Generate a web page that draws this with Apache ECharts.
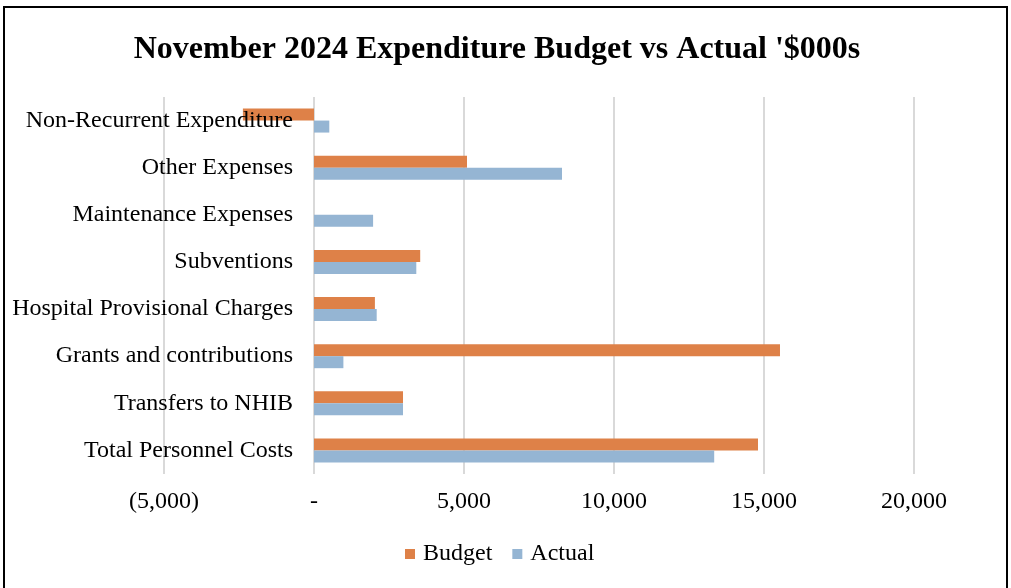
<!DOCTYPE html>
<html>
<head>
<meta charset="utf-8">
<script src="https://cdn.jsdelivr.net/npm/echarts@6/dist/echarts.min.js"></script>
<style>
html,body{margin:0;padding:0;background:#fff;width:1011px;height:588px;overflow:hidden;}
#frame{position:absolute;left:3px;top:6px;width:1001px;height:590px;border:2px solid #000;box-sizing:content-box;}
#chart{position:absolute;left:0;top:0;width:1011px;height:588px;}
</style>
</head>
<body>
<div id="frame"></div>
<div id="chart"></div>
<script>
const categories = ['Total Personnel Costs','Transfers to NHIB','Grants and contributions','Hospital Provisional Charges','Subventions','Maintenance Expenses','Other Expenses','Non-Recurrent Expenditure'];
const budget = [14800, 2967, 15533, 2030, 3540, 0, 5100, -2370];
const actual = [13340, 2967, 980, 2090, 3410, 1970, 8267, 510];
const xTicks = {min: -5000, max: 20000, interval: 5000};

function fmt(v){
  if (v === 0) return '-';
  const s = Math.abs(v).toLocaleString('en-US');
  return v < 0 ? '(' + s + ')' : s;
}

const chart = echarts.init(document.getElementById('chart'));
chart.setOption({
  animation: false,
  title: {
    text: "November 2024 Expenditure Budget vs Actual '$000s",
    left: 492, textAlign: 'center', top: 29,
    textStyle: {fontFamily: 'Liberation Serif', fontWeight: 'bold', fontSize: 32, color: '#000'}
  },
  legend: {
    data: ['Budget','Actual'],
    top: 537, left: 400,
    itemWidth: 10, itemHeight: 10, itemGap: 20,
    icon: 'rect',
    textStyle: {fontFamily: 'Liberation Serif', fontSize: 24, color: '#000', padding: [0, 0, 0, 3]}
  },
  grid: {left: 164, right: 97, top: 97, bottom: 114, containLabel: false, outerBoundsMode: 'none'},
  xAxis: {
    type: 'value', min: xTicks.min, max: xTicks.max, interval: xTicks.interval,
    axisLine: {show: false}, axisTick: {show: false},
    splitLine: {lineStyle: {color: '#d9d9d9', width: 2}},
    axisLabel: {formatter: fmt, fontFamily: 'Liberation Serif', fontSize: 24, color: '#000', margin: 16}
  },
  yAxis: {
    type: 'category', data: categories, z: 5,
    axisLine: {show: false}, axisTick: {show: false},
    axisLabel: {fontFamily: 'Liberation Serif', fontSize: 24, color: '#000', margin: -129}
  },
  series: [
    {name: 'Budget', type: 'bar', data: budget, barWidth: 12, barGap: '0%', itemStyle: {color: '#de8148'}},
    {name: 'Actual', type: 'bar', data: actual, barWidth: 12, barGap: '0%', itemStyle: {color: '#95b5d3'}}
  ]
});
</script>
</body>
</html>
